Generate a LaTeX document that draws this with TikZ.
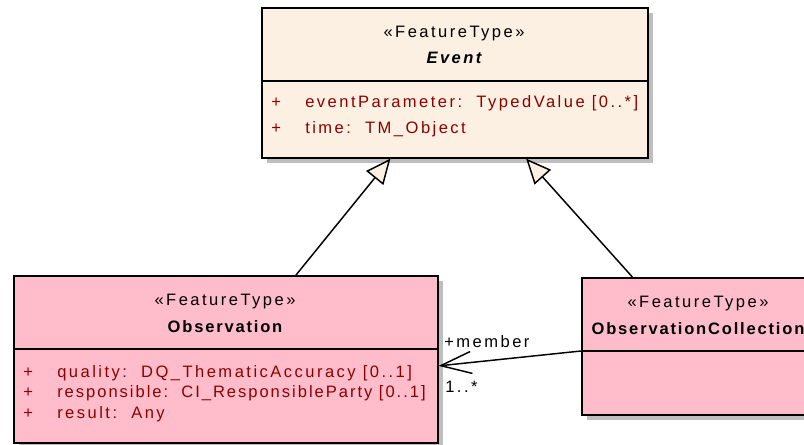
\documentclass[tikz,border=0pt]{standalone}
\usepackage{fontspec}
\setmainfont{Liberation Sans}
\usetikzlibrary{arrows.meta,calc}
\definecolor{eventfill}{RGB}{251,240,226}
\definecolor{featfill}{RGB}{255,188,203}
\definecolor{attrred}{RGB}{140,0,0}
\definecolor{shadowgrey}{RGB}{190,190,190}
\newfontfamily\umlfont[LetterSpace=15]{Liberation Sans}
\newfontfamily\umlnarrowfont[LetterSpace=12]{Liberation Sans}
\newfontfamily\umlboldfont[LetterSpace=11]{Liberation Sans}
\newcommand{\umlsize}{\fontsize{12.4pt}{14pt}\selectfont}
\begin{document}
\begin{tikzpicture}[x=0.75pt,y=-0.75pt,
  classbox/.style={draw=black, line width=1.2pt, rectangle, inner sep=0pt, anchor=north west},
  shadowbox/.style={fill=shadowgrey, draw=none, rectangle, inner sep=0pt, anchor=north west},
  divider/.style={draw=black, line width=1.2pt},
  stereo/.style={anchor=base, inner sep=0pt, font=\umlfont\umlsize},
  cname/.style={anchor=base, inner sep=0pt, font=\umlboldfont\umlsize\bfseries},
  attr/.style={anchor=base west, inner sep=0pt, font=\umlfont\umlsize, text=attrred},
  rolelabel/.style={anchor=base west, inner sep=0pt, font=\umlfont\umlsize},
  genline/.style={draw=black, line width=1.1pt,
    -{Triangle[length=18.75pt, width=16.5pt, fill=eventfill, line width=1.1pt]}},
  assocline/.style={draw=black, line width=1.1pt,
    -{Straight Barb[length=23pt, width=16.5pt, line width=1.1pt]}}
]
\clip (0,0) rectangle (804,444);
\fill[white] (0,0) rectangle (804,444);

% drop shadows
\node[shadowbox, minimum width=289.5pt, minimum height=112.5pt] (eventshadow) at (267,13) {};
\node[shadowbox, minimum width=318pt, minimum height=125.25pt] (obsshadow) at (19,281) {};
\node[shadowbox, minimum width=175.5pt, minimum height=102.75pt] (collshadow) at (587,283) {};

% class Event
\node[classbox, fill=eventfill, minimum width=289.5pt, minimum height=112.5pt] (event) at (261,7) {};
\draw[divider] ($(event.north west)+(0,74)$) -- ($(event.north east)+(0,74)$);
\node[stereo] (evstereo) at (454,37) {«FeatureType»};
\node[cname, font=\umlfont\umlsize\bfseries\itshape] (evname) at (454,63) {Event};
\node[attr] (evplus1) at (271,107) {+};
\node[attr] (evattr1) at (305,107) {eventParameter:\ \ TypedValue [0..*]};
\node[attr] (evplus2) at (271,133) {+};
\node[attr] (evattr2) at (305,133) {time:\ \ TM\_Object};

% class Observation
\node[classbox, fill=featfill, minimum width=318pt, minimum height=125.25pt] (obs) at (13,275) {};
\draw[divider] ($(obs.north west)+(0,74)$) -- ($(obs.north east)+(0,74)$);
\node[stereo] (obsstereo) at (225,305) {«FeatureType»};
\node[cname] (obsname) at (225,332) {Observation};
\node[attr] (obsplus1) at (23,377) {+};
\node[attr] (obsattr1) at (57,377) {quality:\ \ DQ\_ThematicAccuracy [0..1]};
\node[attr] (obsplus2) at (23,397) {+};
\node[attr, font=\umlnarrowfont\umlsize] (obsattr2) at (57,397) {responsible:\ \ CI\_ResponsibleParty [0..1]};
\node[attr] (obsplus3) at (23,418) {+};
\node[attr] (obsattr3) at (57,418) {result:\ \ Any};

% class ObservationCollection
\node[classbox, fill=featfill, minimum width=175.5pt, minimum height=102.75pt] (coll) at (581,277) {};
\draw[divider] ($(coll.north west)+(0,74)$) -- ($(coll.north east)+(0,74)$);
\node[stereo] (collstereo) at (698,307) {«FeatureType»};
\node[cname] (collname) at (698,334) {ObservationCollection};

% generalizations
\draw[genline] ($(obs.north west)!0.665!(obs.north east)$) -- ($(event.south west)!0.334!(event.south east)$);
\draw[genline] ($(coll.north west)!0.218!(coll.north east)$) -- ($(event.south west)!0.684!(event.south east)$);

% association member
\draw[assocline] ($(coll.north west)+(0,74)$) -- ($(obs.north east)!0.539!(obs.south east)$);
\node[rolelabel] (memberrole) at (444,347) {+member};
\node[rolelabel] (membermult) at (445,392) {1..*};
\end{tikzpicture}
\end{document}
